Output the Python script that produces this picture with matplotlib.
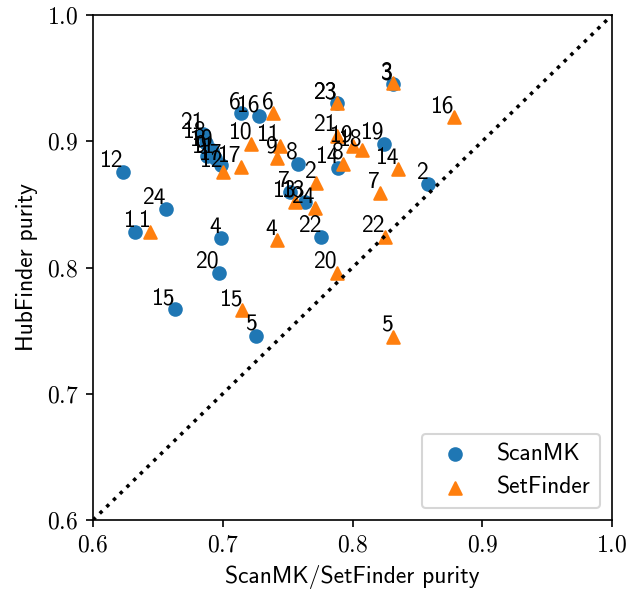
import numpy as np
import matplotlib
matplotlib.use("Agg")
import matplotlib.pyplot as plt

# Fonts: sans text (Computer Modern Sans shipped with matplotlib), CM math for ticks
plt.rcParams['font.family'] = ['cmss10', 'DejaVu Sans']
plt.rcParams['mathtext.fontset'] = 'cm'
plt.rcParams['axes.unicode_minus'] = False
plt.rcParams['font.size'] = 11.3

# Dataset ids 1..24
ids = list(range(1, 25))

# ScanMK purity vs HubFinder purity
scanmk_x = [0.632, 0.858, 0.831, 0.699, 0.726, 0.714, 0.752, 0.758, 0.688, 0.692,
            0.694, 0.623, 0.763, 0.789, 0.663, 0.728, 0.699, 0.687, 0.824, 0.697,
            0.685, 0.776, 0.788, 0.656]
scanmk_y = [0.828, 0.866, 0.945, 0.823, 0.746, 0.922, 0.860, 0.882, 0.888, 0.893,
            0.887, 0.876, 0.852, 0.879, 0.767, 0.920, 0.881, 0.899, 0.898, 0.796,
            0.906, 0.824, 0.930, 0.846]

# SetFinder purity vs HubFinder purity
setfinder_x = [0.644, 0.772, 0.831, 0.742, 0.831, 0.739, 0.821, 0.793, 0.742, 0.722,
               0.744, 0.700, 0.756, 0.835, 0.715, 0.878, 0.714, 0.807, 0.800, 0.788,
               0.788, 0.825, 0.788, 0.771]
setfinder_y = [0.828, 0.867, 0.946, 0.822, 0.745, 0.922, 0.859, 0.882, 0.887, 0.898,
               0.896, 0.876, 0.852, 0.878, 0.766, 0.919, 0.880, 0.893, 0.896, 0.796,
               0.904, 0.824, 0.930, 0.847]

ticks = [0.6, 0.7, 0.8, 0.9, 1.0]

fig = plt.figure(figsize=(641 / 150, 594 / 150), dpi=150)
ax = fig.add_axes([0.1451, 0.1246, 0.8097, 0.8501])

ax.scatter(scanmk_x, scanmk_y, marker='o', color='C0', label='ScanMK')
ax.scatter(setfinder_x, setfinder_y, marker='^', color='C1', label='SetFinder')

for i, x, y in zip(ids, scanmk_x, scanmk_y):
    ax.annotate(str(i), (x, y), ha='right', va='bottom')
for i, x, y in zip(ids, setfinder_x, setfinder_y):
    ax.annotate(str(i), (x, y), ha='right', va='bottom')

# diagonal y = x
ax.plot([0.6, 1.0], [0.6, 1.0], color='black', linestyle=':', linewidth=1.7)

ax.set_xlim(0.6, 1.0)
ax.set_ylim(0.6, 1.0)
ax.set_xticks(ticks)
ax.set_yticks(ticks)
ax.set_xticklabels(['$%.1f$' % t for t in ticks])
ax.set_yticklabels(['$%.1f$' % t for t in ticks])

ax.set_xlabel('ScanMK/SetFinder purity')
ax.set_ylabel('HubFinder purity')
ax.legend(loc='lower right')

fig.savefig('out.png', dpi=150)
